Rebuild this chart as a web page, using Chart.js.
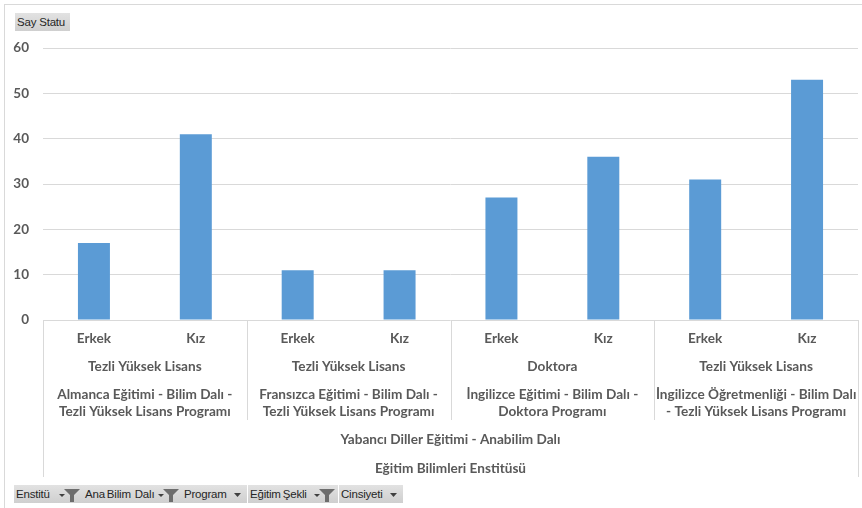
<!DOCTYPE html>
<html>
<head>
<meta charset="utf-8">
<script src="https://cdn.jsdelivr.net/npm/chart.js@4"></script>
<style>
  html, body { margin:0; padding:0; background:#fff; }
  #wrap { position:relative; width:862px; height:508px; overflow:hidden; }
  #frame { position:absolute; left:4px; top:4px; width:858px; height:504px; border-left:1px solid #d9d9d9; border-top:1px solid #d9d9d9; box-sizing:border-box; pointer-events:none; }
  canvas { position:absolute; left:0; top:0; }
  .btn { position:absolute; height:18px; background:linear-gradient(#e2e2e2,#cfcfcf); font-family:"Liberation Sans", sans-serif; font-size:11.5px; color:#262626; line-height:18px; white-space:pre; box-sizing:border-box; padding-left:2px; letter-spacing:-0.2px; word-spacing:-1px; }
  .btn svg { position:absolute; top:3px; }
</style>
</head>
<body>
<div id="wrap">
  <canvas id="c" width="862" height="508"></canvas>
  <div id="frame"></div>
  <div class="btn" style="left:15px; top:13px; width:55px; word-spacing:0;">Say Statu</div>
  <div id="filters"></div>
</div>
<script>
// ---- data ----
const categories = ['Erkek','Kız','Erkek','Kız','Erkek','Kız','Erkek','Kız'];
const values = [17, 41, 11, 11, 27, 36, 31, 53];
const programTypes = ['Tezli Yüksek Lisans','Tezli Yüksek Lisans','Doktora','Tezli Yüksek Lisans'];
const programs = [
  ['Almanca Eğitimi - Bilim Dalı -','Tezli Yüksek Lisans Programı'],
  ['Fransızca Eğitimi - Bilim Dalı -','Tezli Yüksek Lisans Programı'],
  ['İngilizce Eğitimi - Bilim Dalı -','Doktora Programı'],
  ['İngilizce Öğretmenliği - Bilim Dalı','- Tezli Yüksek Lisans Programı']
];
const departments = ['Yabancı Diller Eğitimi - Anabilim Dalı'];
const institutes = ['Eğitim Bilimleri Enstitüsü'];
const yMin = 0, yMax = 60, yStep = 10;
const valueField = 'Say Statu';
const filterFields = [
  {name:'Enstitü', filtered:true},
  {name:'Ana Bilim  Dalı', filtered:true},
  {name:'Program', filtered:false},
  {name:'Eğitim Şekli', filtered:true},
  {name:'Cinsiyeti', filtered:false}
];

// ---- filter buttons ----
const filterPos = [[14,69],[83,99],[182,65],[248,90],[339,64]];
const fc = document.getElementById('filters');
filterFields.forEach((f, i) => {
  const d = document.createElement('div');
  d.className = 'btn';
  d.style.left = filterPos[i][0] + 'px';
  d.style.top = '485px';
  d.style.width = filterPos[i][1] + 'px';
  d.textContent = f.name;
  const w = filterPos[i][1];
  let svg;
  if (f.filtered) {
    svg = '<svg width="22" height="14" style="left:' + (w-24) + 'px" viewBox="0 0 22 14">' +
      '<polygon points="0,6 6,6 3,9" fill="#404040"/>' +
      '<polygon points="5,1 21,1 15,7 15,14 11,14 11,7" fill="#6d6d6d"/></svg>';
  } else {
    svg = '<svg width="10" height="14" style="left:' + (w-14) + 'px" viewBox="0 0 10 14">' +
      '<polygon points="1,5 8,5 4.5,9" fill="#404040"/></svg>';
  }
  d.insertAdjacentHTML('beforeend', svg);
  fc.appendChild(d);
});

// ---- multi-level axis plugin ----
const FONT = 'Lato, "Open Sans", sans-serif';
const TXT = '#595959';
const LINE = '#d9d9d9';
const LSIZE = 13.6;
const multiLevel = {
  id: 'multiLevel',
  afterDraw(chart) {
    const ctx = chart.ctx;
    const xs = chart.scales.x;
    const top = xs.top;
    const n = categories.length;
    const half = (xs.getPixelForValue(1) - xs.getPixelForValue(0)) / 2;
    const leftEdge = xs.getPixelForValue(0) - half;
    const rightEdge = xs.getPixelForValue(n - 1) + half;
    ctx.save();
    ctx.strokeStyle = LINE;
    ctx.lineWidth = 1;
    const groupSize = n / programTypes.length;
    for (let g = 0; g <= programTypes.length; g++) {
      const x = Math.round(xs.getPixelForValue(g * groupSize) - half) + 0.5;
      const bottom = (g === 0 || g === programTypes.length) ? top + 157 : top + 100;
      ctx.beginPath(); ctx.moveTo(x, top); ctx.lineTo(x, bottom); ctx.stroke();
    }
    ctx.fillStyle = TXT;
    ctx.textAlign = 'center';
    ctx.textBaseline = 'middle';
    ctx.font = 'bold ' + LSIZE + 'px ' + FONT;
    for (let g = 0; g < programTypes.length; g++) {
      const cx = (xs.getPixelForValue(g * groupSize) + xs.getPixelForValue(g * groupSize + groupSize - 1)) / 2;
      ctx.fillText(programTypes[g], cx, top + 47);
      ctx.fillText(programs[g][0], cx, top + 75);
      ctx.fillText(programs[g][1], cx, top + 92);
    }
    const mid = (leftEdge + rightEdge) / 2;
    ctx.fillText(departments[0], mid, top + 120);
    ctx.fillText(institutes[0], mid, top + 149);
    ctx.restore();
  }
};

new Chart(document.getElementById('c'), {
  type: 'bar',
  data: {
    labels: categories,
    datasets: [{
      label: valueField,
      data: values,
      backgroundColor: '#5b9bd5',
      borderWidth: 0,
      categoryPercentage: 1,
      barPercentage: 0.314
    }]
  },
  options: {
    responsive: false,
    animation: false,
    devicePixelRatio: 1,
    layout: { padding: { left: 0, right: 4, top: 48, bottom: 0 } },
    plugins: { legend: { display: false }, tooltip: { enabled: false } },
    scales: {
      x: {
        grid: { display: false, drawTicks: false },
        border: { display: false },
        ticks: { color: TXT, font: { family: FONT, size: LSIZE, weight: 'bold' }, padding: 10, maxRotation: 0, autoSkip: false },
        afterFit(scale) { scale.height = 188; }
      },
      y: {
        min: yMin, max: yMax,
        grid: { color: LINE, lineWidth: 1, drawTicks: false },
        border: { display: false },
        ticks: { stepSize: yStep, color: TXT, font: { family: FONT, size: 13.5, weight: 'bold' }, padding: 14 },
        afterFit(scale) { scale.width = 43; }
      }
    }
  },
  plugins: [multiLevel]
});
</script>
</body>
</html>
